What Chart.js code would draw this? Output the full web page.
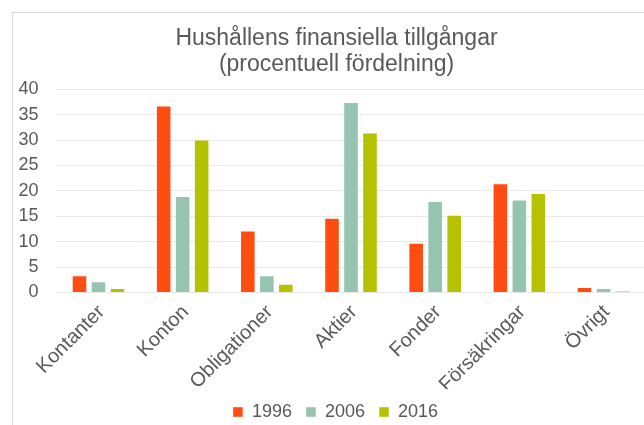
<!DOCTYPE html>
<html>
<head>
<meta charset="utf-8">
<script src="https://cdn.jsdelivr.net/npm/chart.js@4/dist/chart.umd.min.js"></script>
<style>
  html, body { margin: 0; padding: 0; background: #ffffff; overflow: hidden; width: 644px; height: 425px; }
  #wrap { position: absolute; left: 12px; top: 12px; width: 647px; height: 430px;
          border-left: 1px solid #d9d9d9; border-top: 1px solid #d9d9d9; background: #fff; }
  #c { display: block; }
</style>
</head>
<body>
<div id="wrap"><canvas id="c" width="647" height="430"></canvas></div>
<script>
const titleLines = ["Hushållens finansiella tillgångar", "(procentuell fördelning)"];
const categories = ["Kontanter", "Konton", "Obligationer", "Aktier", "Fonder", "Försäkringar", "Övrigt"];
const seriesNames = ["1996", "2006", "2016"];
const values1996 = [3.4, 36.8, 12.2, 14.7, 9.8, 21.5, 1.1];
const values2006 = [2.2, 19.0, 3.4, 37.5, 18.0, 18.3, 0.9];
const values2016 = [0.9, 30.1, 1.7, 31.5, 15.3, 19.6, 0.3];
const yTicks = [0, 5, 10, 15, 20, 25, 30, 35, 40];

const colors = ["#FF4C10", "#95C4B0", "#B5C200"];
const textColor = "#595959";
const fontFamily = "'Liberation Sans', Arial, sans-serif";

const seriesValues = [values1996, values2006, values2016];

// Re-centre the title and legend on the full chart width (the plot keeps its right gap)
const centerBlocks = {
  id: 'centerBlocks',
  afterLayout(chart) {
    const w = chart.width;
    if (chart.titleBlock) { chart.titleBlock.left = 0; chart.titleBlock.right = w; }
    if (chart.legend) { chart.legend.left = 0; chart.legend.right = w - 2; }
  }
};

new Chart(document.getElementById('c'), {
  type: 'bar',
  data: {
    labels: categories,
    datasets: seriesNames.map((name, i) => ({
      label: name,
      data: seriesValues[i],
      backgroundColor: colors[i],
      borderColor: 'rgba(255,255,255,0.45)',
      borderWidth: 1,
      categoryPercentage: 0.677,
      barPercentage: 0.82
    }))
  },
  plugins: [centerBlocks],
  options: {
    responsive: false,
    animation: false,
    layout: { padding: { left: 0, right: 14.4, top: 0, bottom: 12 } },
    plugins: {
      title: {
        display: true,
        text: titleLines,
        color: textColor,
        font: { family: fontFamily, size: 23, weight: 'normal', lineHeight: 1.12 },
        padding: { top: 13, bottom: 11.8 }
      },
      legend: {
        display: true,
        position: 'bottom',
        labels: {
          color: textColor,
          font: { family: fontFamily, size: 18 },
          boxWidth: 10,
          boxHeight: 10,
          padding: 14
        }
      },
      tooltip: { enabled: false }
    },
    scales: {
      x: {
        grid: { display: false, drawTicks: false },
        border: { display: false },
        ticks: {
          color: textColor,
          font: { family: fontFamily, size: 20 },
          maxRotation: 45,
          minRotation: 45,
          padding: 8,
          labelOffset: 3,
          autoSkip: false
        },
        afterFit: (s) => { s.height = 96.5; }
      },
      y: {
        min: 0,
        max: 40,
        afterBuildTicks: (s) => { s.ticks = yTicks.map(v => ({ value: v })); },
        grid: { color: '#e8e8e8', lineWidth: 1, drawTicks: false },
        border: { display: false },
        ticks: {
          color: textColor,
          font: { family: fontFamily, size: 18 },
          padding: 18
        },
        afterFit: (s) => { s.width = 43.4; }
      }
    }
  }
});
</script>
</body>
</html>
